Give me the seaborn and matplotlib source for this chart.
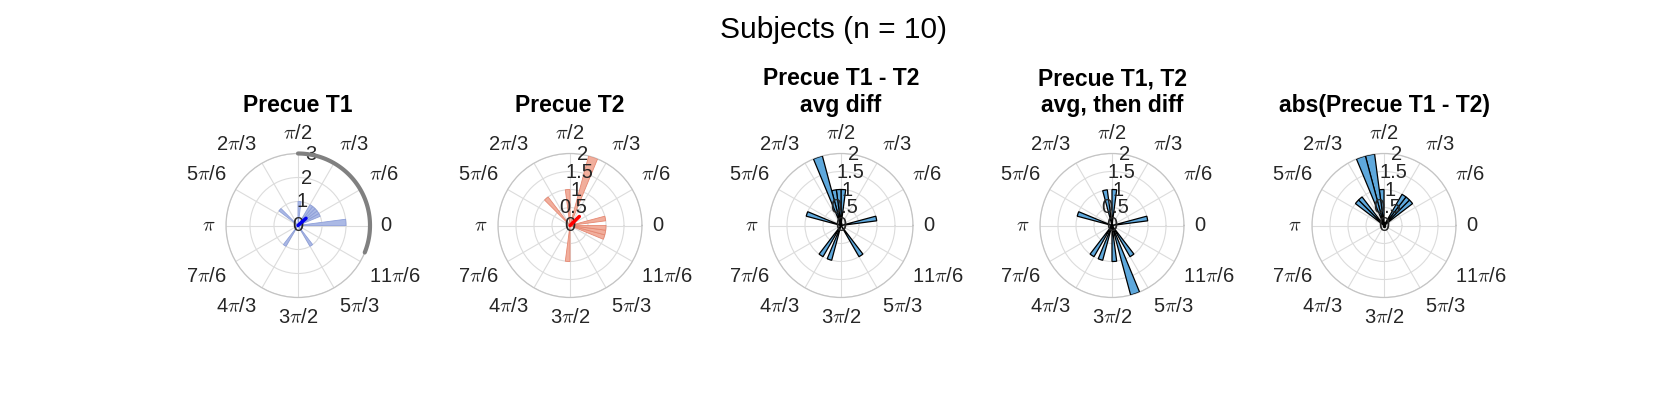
import numpy as np
import pandas as pd
import matplotlib
matplotlib.use("Agg")
from matplotlib import pyplot as plt
import seaborn as sns

# --- dane ---
bin_width_deg = 7.5

t1_bin_start = [0, 22.5, 30, 37.5, 45, 52.5, 82.5, 135, 232.5, 300]
t1_counts = [2, 1, 1, 1, 1, 1, 1, 1, 1, 1]

t2_bin_start = [7.5, 352.5, 345, 337.5, 67.5, 90, 127.5, 262.5]
t2_counts = [1, 1, 1, 1, 2, 1, 1, 1]

avgdiff_bin_start = [105, 82.5, 90, 97.5, 157.5, 7.5, 232.5, 247.5, 300]
avgdiff_counts = [2, 1, 1, 1, 1, 1, 1, 1, 1]

thendiff_bin_start = [97.5, 82.5, 157.5, 7.5, 232.5, 247.5, 270, 300, 285]
thendiff_counts = [1, 1, 1, 1, 1, 1, 1, 1, 2]

absdiff_bin_start = [97.5, 105, 90, 127.5, 135, 37.5, 45, 52.5]
absdiff_counts = [2, 2, 1, 1, 1, 1, 1, 1]

titles = ["Precue T1", "Precue T2", "Precue T1 - T2\navg diff",
          "Precue T1, T2\navg, then diff", "abs(Precue T1 - T2)"]
r_max = [3, 2, 2, 2, 2]
r_ticks = [[0, 1, 2, 3], [0, 0.5, 1, 1.5, 2], [0, 0.5, 1, 1.5, 2],
           [0, 0.5, 1, 1.5, 2], [0, 0.5, 1, 1.5, 2]]
r_ticklabels = [["0", "1", "2", "3"]] + [["0", "0.5", "1", "1.5", "2"]] * 4

# wektor sredni (kierunek w stopniach, dlugosc)
mean_angle_deg = [42, 44, 100, 260, 90]
mean_length = [0.45, 0.36, 0.05, 0.05, 0.065]
mean_colors = ["#0000ee", "#ff0000", "black", "black", "black"]

# luk (przedzial ufnosci) dla Precue T1
t1_arc_deg = [90, -22]
t1_arc_r = 3

theta_tick_deg = list(range(0, 360, 30))
theta_labels = ["0", r"$\pi$/6", r"$\pi$/3", r"$\pi$/2", r"2$\pi$/3", r"5$\pi$/6",
                r"$\pi$", r"7$\pi$/6", r"4$\pi$/3", r"3$\pi$/2", r"5$\pi$/3", r"11$\pi$/6"]

bin_starts = [t1_bin_start, t2_bin_start, avgdiff_bin_start, thendiff_bin_start, absdiff_bin_start]
bin_counts = [t1_counts, t2_counts, avgdiff_counts, thendiff_counts, absdiff_counts]
face_colors = ["#abb9e5", "#f1ae9c", "#5ea8dc", "#5ea8dc", "#5ea8dc"]
edge_colors = ["#8e9fd9", "#e68872", "black", "black", "black"]
edge_widths = [0.6, 0.6, 0.9, 0.9, 0.9]

# --- styl ---
sns.set_style("white")
plt.rcParams["font.family"] = ["Liberation Sans", "DejaVu Sans"]
plt.rcParams["mathtext.fontset"] = "cm"

W, H = 1667, 417
fig = plt.figure(figsize=(W / 100, H / 100), dpi=100)

centers_x = [298, 570, 841, 1112, 1384]
center_y = 225.5
radius = 72
label_gap = 7.5   # pt od okregu do krawedzi etykiety
tick_fs = 14.5
text_col = "#262626"


def align_for(deg):
    c, s = np.cos(np.deg2rad(deg)), np.sin(np.deg2rad(deg))
    ha = "center" if abs(c) < 1e-6 else ("left" if c > 0 else "right")
    va = "center" if abs(s) < 1e-6 else ("bottom" if s > 0 else "top")
    return ha, va, c, s


for i in range(5):
    ax = fig.add_axes([(centers_x[i] - radius) / W, (H - center_y - radius) / H,
                       2 * radius / W, 2 * radius / H], projection="polar")

    df = pd.DataFrame({
        "theta": np.deg2rad(np.array(bin_starts[i]) + bin_width_deg / 2),
        "count": bin_counts[i],
    })
    sns.histplot(data=df, x="theta", weights="count",
                 binwidth=np.deg2rad(bin_width_deg), binrange=(0, 2 * np.pi), ax=ax,
                 color=face_colors[i], alpha=1, edgecolor=edge_colors[i],
                 linewidth=edge_widths[i], zorder=3)

    ax.set_xlabel("")
    ax.set_ylabel("")
    ax.set_thetalim(0, 2 * np.pi)
    ax.set_ylim(0, r_max[i])

    ax.set_xticks(np.deg2rad(theta_tick_deg))
    ax.set_xticklabels([])
    ax.set_yticks(r_ticks[i])
    ax.set_yticklabels([])
    ax.grid(True, color="#dcdcdc", linewidth=0.8)
    ax.spines["polar"].set_color("#c4c4c4")
    ax.spines["polar"].set_linewidth(0.9)
    ax.set_facecolor("white")

    # etykiety katow (wyrownanie jak w MATLAB: krawedz etykiety przy okregu)
    for deg, lab in zip(theta_tick_deg, theta_labels):
        ha, va, c, s = align_for(deg)
        ax.annotate(lab, xy=(np.deg2rad(deg), r_max[i]),
                    xytext=(label_gap * c, label_gap * s), textcoords="offset points",
                    ha=ha, va=va, fontsize=tick_fs, color=text_col,
                    annotation_clip=False)

    for r, lab in zip(r_ticks[i], r_ticklabels[i]):
        ax.text(np.deg2rad(80), r, lab, ha="center", va="center",
                fontsize=tick_fs, color=text_col, zorder=5)

    ang = np.deg2rad(mean_angle_deg[i])
    ax.plot([ang, ang], [0, mean_length[i]], color=mean_colors[i], lw=2.5,
            solid_capstyle="round", zorder=6)

    if i == 0:
        arc_theta = np.deg2rad(np.linspace(t1_arc_deg[0], t1_arc_deg[1], 120))
        ax.plot(arc_theta, np.full(arc_theta.shape, t1_arc_r), color="#808080",
                lw=3, clip_on=False, zorder=7)

    fig.text(centers_x[i] / W, 1 - 117 / H, titles[i], ha="center", va="bottom",
             fontsize=16.5, fontweight="bold", color="black", linespacing=1.2)

fig.text(0.5, 1 - 38.5 / H, "Subjects (n = 10)", ha="center", va="baseline",
         fontsize=21.5, color="black")

fig.savefig("out.png", dpi=100, facecolor="white")
